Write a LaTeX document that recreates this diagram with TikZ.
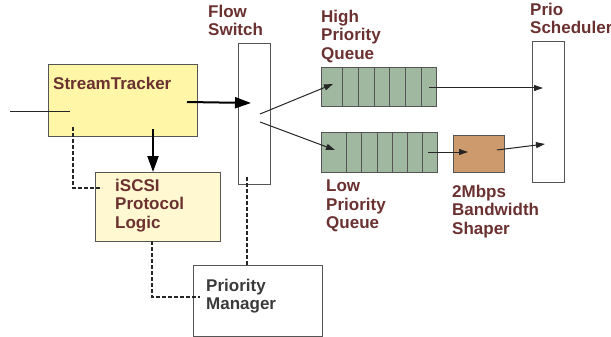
\documentclass[tikz,border=0pt]{standalone}
\usepackage{fontspec}
\setmainfont{Liberation Sans}
\usetikzlibrary{arrows.meta,calc}
\definecolor{stfill}{HTML}{FFF6A8}
\definecolor{isfill}{HTML}{FFF8D0}
\definecolor{qfill}{HTML}{A0B8A0}
\definecolor{shfill}{HTML}{CC9A6C}
\definecolor{lbl}{HTML}{6B3030}
\definecolor{gtxt}{HTML}{3A3A3A}
\definecolor{edge}{HTML}{555555}
\tikzset{
  box/.style={draw=edge, line width=0.9pt, anchor=north west, inner sep=0pt, outer sep=0pt},
  lab/.style={anchor=north west, inner sep=0pt, align=left, text=lbl,
     font=\fontsize{17}{18.3}\selectfont\bfseries},
  thick arrow/.style={line width=2pt, -{Triangle[length=16pt,width=11pt]}},
  thin arrow/.style={line width=1pt, draw=black!85, -{Triangle[length=9pt,width=6pt]}},
  dash link/.style={line width=1.5pt, dash pattern=on 4pt off 2pt, draw=black!85},
}
\begin{document}
\begin{tikzpicture}[x=1pt,y=-1pt]
\useasboundingbox (0,0) rectangle (611,337);
% boxes
\node[box, fill=stfill, minimum width=149pt, minimum height=72pt] (st) at (48,64) {};
\node[box, minimum width=32pt, minimum height=141pt] (fs) at (238,43) {};
\node[box, fill=isfill, minimum width=125pt, minimum height=69pt] (is) at (95,172) {};
\node[box, minimum width=129pt, minimum height=71pt] (pm) at (193,265) {};
\node[box, minimum width=32pt, minimum height=141pt] (ps) at (532,41) {};
\node[box, fill=shfill, minimum width=51pt, minimum height=37pt] (sh) at (453,135) {};
% high queue
\node[box, fill=qfill, minimum width=115pt, minimum height=39pt] (hq) at (321,67) {};
\foreach \x in {342,358,374,389,405,421} \draw[edge, line width=0.9pt] (\x,67) -- (\x,106);
% low queue
\node[box, fill=qfill, minimum width=116pt, minimum height=40pt] (lq) at (321,132) {};
\foreach \x in {346,361,377,392,407,422} \draw[edge, line width=0.9pt] (\x,132) -- (\x,172);
% labels
\node[lab] (tst) at (53,77) {StreamTracker};
\node[lab] (tfs) at (208,5) {Flow\\Switch};
\node[lab] (thq) at (321,10) {High\\Priority\\Queue};
\node[lab] (tps) at (530,3) {Prio\\Scheduler};
\node[lab] (tlq) at (326,180) {Low\\Priority\\Queue};
\node[lab] (tsh) at (452,185) {2Mbps\\Bandwidth\\Shaper};
\node[lab] (tis) at (115,179) {iSCSI\\Protocol\\Logic};
\node[lab, text=gtxt] (tpm) at (206,279) {Priority\\Manager};
% coordinates
\coordinate (in) at (10,112);
\coordinate (stin) at ($(st.north west)+(22,48)$);
\coordinate (stout) at ($(st.north west)+(139,38)$);
\coordinate (fsin) at ($(fs.north west)+(13,60)$);
\coordinate (stdown) at ($(st.north west)+(105,65)$);
\coordinate (fs1) at ($(fs.north west)+(22,71)$);
\coordinate (fs2) at ($(fs.north west)+(22,79)$);
\coordinate (hqin) at ($(hq.north west)+(12,17)$);
\coordinate (lqin) at ($(lq.north west)+(14,18)$);
\coordinate (hqout) at ($(hq.north west)+(108,21)$);
\coordinate (lqout) at ($(lq.north west)+(107,20)$);
\coordinate (ps1) at ($(ps.north west)+(11,47)$);
\coordinate (ps2) at ($(ps.north west)+(13,103)$);
\coordinate (shin) at ($(sh.north west)+(15,17)$);
\coordinate (shout) at ($(sh.north west)+(44,15)$);
\coordinate (stdash) at ($(st.north west)+(25,63)$);
\coordinate (isdash) at ($(is.north west)+(7,16)$);
\coordinate (isbot) at ($(is.south west)+(57,0)$);
\coordinate (pmdash) at ($(pm.north west)+(7,32)$);
\coordinate (fsdash) at ($(fs.north west)+(9,134)$);
% connectors
\draw[line width=1pt, draw=black!85] (in) -- (stin);
\draw[thick arrow] (stout) -- (fsin);
\draw[thick arrow] (stdown) -- (stdown |- is.north);
\draw[thin arrow] (fs1) -- (hqin);
\draw[thin arrow] (fs2) -- (lqin);
\draw[thin arrow] (hqout) -- (ps1);
\draw[thin arrow] (lqout) -- (shin);
\draw[thin arrow] (shout) -- (ps2);
\draw[dash link] (stdash) |- (isdash);
\draw[dash link] (isbot) |- (pmdash);
\draw[dash link] (fsdash) -- (fsdash |- pm.north);
\end{tikzpicture}
\end{document}
